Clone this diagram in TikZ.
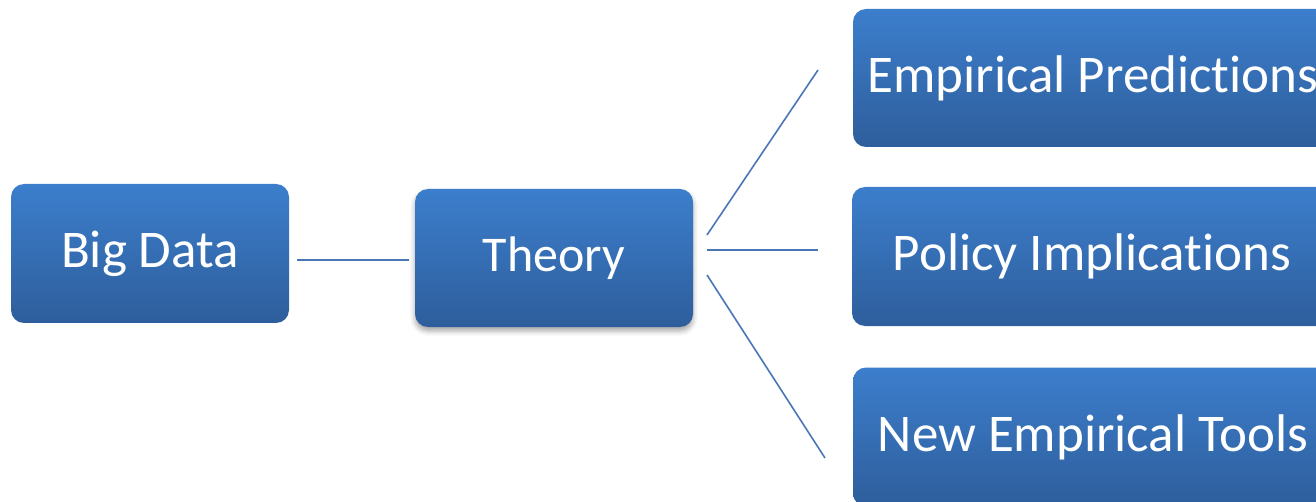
\documentclass[tikz,border=0pt]{standalone}
\usepackage{fontspec}
\setmainfont[Ligatures=NoCommon]{Carlito}
\usetikzlibrary{shadows,shadows.blur}
\definecolor{boxtop}{HTML}{3C7ECC}
\definecolor{boxbot}{HTML}{2E5E9C}
\definecolor{linecol}{HTML}{4A76B6}
\tikzset{
  box/.style={rounded corners=13pt, top color=boxtop, bottom color=boxbot, draw=none,
    text=white, font=\fontsize{53}{60}\selectfont, inner sep=0pt, anchor=center},
  conn/.style={draw=linecol, line width=1.6pt},
}
\begin{document}
\begin{tikzpicture}[x=1pt,y=-1pt]
\useasboundingbox (0,0) rectangle (1316,502);
\clip (0,0) rectangle (1316,502);
% boxes
\node[box, minimum width=278pt, minimum height=139pt] (bigdata) at (150,253.5) {Big Data};
\node[box, minimum width=278pt, minimum height=138pt, font=\fontsize{50}{60}\selectfont,
  blur shadow={shadow xshift=0pt, shadow yshift=-4pt, shadow blur radius=5pt, shadow opacity=35}]
  (theory) at (554,258) {Theory};
\node[box, minimum width=480pt, minimum height=138pt] (emp) at (1093,78) {Empirical Predictions};
\node[box, minimum width=480pt, minimum height=139pt] (pol) at (1092,256.5) {Policy Implications};
\node[box, minimum width=480pt, minimum height=139pt] (tools) at (1093,437) {New Empirical Tools};
% connector end points
\coordinate (c1) at (297,260);
\coordinate (c2) at (409,260);
\coordinate (t1) at (707,235);
\coordinate (t2) at (707,250);
\coordinate (t3) at (707,275);
\coordinate (e1) at (818,70);
\coordinate (e2) at (818,250);
\coordinate (e3) at (825,458);
\draw[conn] (c1) -- (c2);
\draw[conn] (t1) -- (e1);
\draw[conn] (t2) -- (e2);
\draw[conn] (t3) -- (e3);
\end{tikzpicture}
\end{document}
